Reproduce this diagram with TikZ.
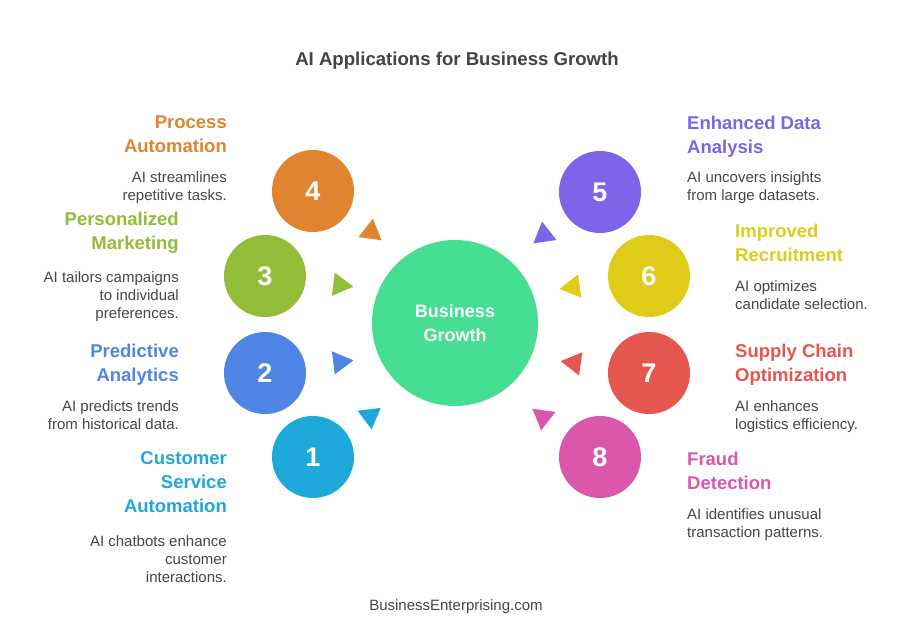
\documentclass[tikz,border=0pt]{standalone}
\usepackage{fontspec}
\setmainfont{Liberation Sans}
\usetikzlibrary{shapes.geometric}
\definecolor{cOrange}{HTML}{E0842F}
\definecolor{cGreen}{HTML}{93BD39}
\definecolor{cBlue}{HTML}{4F86E6}
\definecolor{cCyan}{HTML}{1FA9DB}
\definecolor{cPurple}{HTML}{7E64E8}
\definecolor{cYellow}{HTML}{E0CB19}
\definecolor{cRed}{HTML}{E5564F}
\definecolor{cPink}{HTML}{DB57AC}
\definecolor{cCenter}{HTML}{45DE92}
\definecolor{cText}{HTML}{4A4548}
\definecolor{cTitle}{HTML}{444444}
\tikzset{
  numcircle/.style={circle, fill=#1, minimum size=82pt, inner sep=0pt, text=white, font=\fontsize{27}{30}\selectfont\bfseries},
  hubcircle/.style={circle, fill=cCenter, minimum size=166pt, inner sep=0pt, text=white, align=center, font=\fontsize{18}{24}\selectfont\bfseries},
  tri/.style={regular polygon, regular polygon sides=3, fill=#1, minimum size=27pt, inner sep=0pt, outer sep=0pt},
  headL/.style={anchor=north east, align=right, inner sep=0pt, text=#1, font=\fontsize{18.5}{24}\selectfont\bfseries},
  headR/.style={anchor=north west, align=left, inner sep=0pt, text=#1, font=\fontsize{18.5}{24}\selectfont\bfseries},
  descL/.style={anchor=north east, align=right, inner sep=0pt, text=cText, font=\fontsize{15}{18}\selectfont},
  descR/.style={anchor=north west, align=left, inner sep=0pt, text=cText, font=\fontsize{15}{18}\selectfont},
}
\begin{document}
\begin{tikzpicture}[x=1pt, y=-1pt]
\useasboundingbox[fill=white] (0,0) rectangle (914,638);
% title and footer
\node[text=cTitle, font=\fontsize{18.6}{22}\selectfont\bfseries] (title) at (457,61) {AI Applications for Business Growth};
\node[text=cText, font=\fontsize{15}{18}\selectfont] (footer) at (456,607) {BusinessEnterprising.com};
% hub
\node[hubcircle] (hub) at (455,323) {Business\\Growth};
% numbered circles
\node[numcircle=cOrange] (c4) at (313,191) {4};
\node[numcircle=cGreen]  (c3) at (265,276) {3};
\node[numcircle=cBlue]   (c2) at (265,373) {2};
\node[numcircle=cCyan]   (c1) at (313,457) {1};
\node[numcircle=cPurple] (c5) at (600,192) {5};
\node[numcircle=cYellow] (c6) at (649,276) {6};
\node[numcircle=cRed]    (c7) at (649,373) {7};
\node[numcircle=cPink]   (c8) at (600,457) {8};
% arrowheads
\node[tri=cOrange, rotate=-128] (t4) at (371,232) {};
\node[tri=cGreen,  rotate=-97]  (t3) at (340,285) {};
\node[tri=cBlue,   rotate=-83]  (t2) at (340,362) {};
\node[tri=cCyan,   rotate=-53]  (t1) at (370,416) {};
\node[tri=cPurple, rotate=128]  (t5) at (544,235) {};
\node[tri=cYellow, rotate=98]   (t6) at (573,287) {};
\node[tri=cRed,    rotate=82]   (t7) at (574,363) {};
\node[tri=cPink,   rotate=52]   (t8) at (543,417) {};
% left texts
\node[headL=cOrange] (h4) at (227,115.5) {Process\\Automation};
\node[descL] (d4) at (227,171) {AI streamlines\\repetitive tasks.};
\node[headL=cGreen] (h3) at (179,211.5) {Personalized\\Marketing};
\node[descL] (d3) at (179,271) {AI tailors campaigns\\to individual\\preferences.};
\node[headL=cBlue] (h2) at (179,343.5) {Predictive\\Analytics};
\node[descL] (d2) at (179,400) {AI predicts trends\\from historical data.};
\node[headL=cCyan] (h1) at (227,451.5) {Customer\\Service\\Automation};
\node[descL] (d1) at (227,535) {AI chatbots enhance\\customer\\interactions.};
% right texts
\node[headR=cPurple] (h5) at (687,115.5) {Enhanced Data\\Analysis};
\node[descR] (d5) at (687,171) {AI uncovers insights\\from large datasets.};
\node[headR=cYellow] (h6) at (735,223.5) {Improved\\Recruitment};
\node[descR] (d6) at (735,280) {AI optimizes\\candidate selection.};
\node[headR=cRed] (h7) at (735,343.5) {Supply Chain\\Optimization};
\node[descR] (d7) at (735,400) {AI enhances\\logistics efficiency.};
\node[headR=cPink] (h8) at (687,451.5) {Fraud\\Detection};
\node[descR] (d8) at (687,508) {AI identifies unusual\\transaction patterns.};
\end{tikzpicture}
\end{document}
